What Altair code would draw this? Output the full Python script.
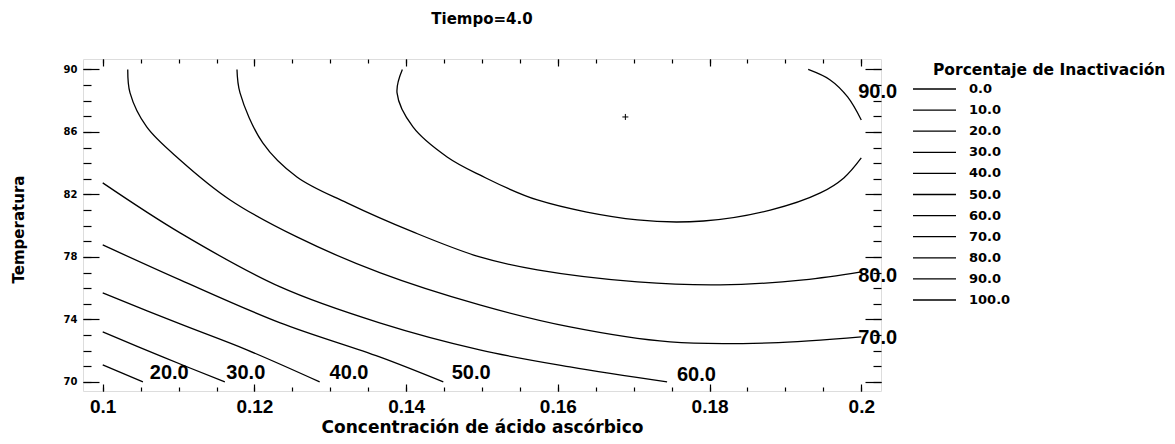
import altair as alt
import pandas as pd

# ---------------- texts ----------------
TITLE = "Tiempo=4.0"
X_TITLE = "Concentración de ácido ascórbico"
Y_TITLE = "Temperatura"
LEGEND_TITLE = "Porcentaje de Inactivación"
LEGEND_LEVELS = ["0.0", "10.0", "20.0", "30.0", "40.0", "50.0",
                 "60.0", "70.0", "80.0", "90.0", "100.0"]

# ---------------- ticks ----------------
X_MAJOR = [0.1, 0.12, 0.14, 0.16, 0.18, 0.2]
X_MINOR = [0.1, 0.105, 0.11, 0.115, 0.12, 0.125, 0.13, 0.135, 0.14, 0.145,
           0.15, 0.155, 0.16, 0.165, 0.17, 0.175, 0.18, 0.185, 0.19, 0.195, 0.2]
Y_MAJOR = [70, 74, 78, 82, 86, 90]
Y_MINOR = [70, 71, 72, 73, 74, 75, 76, 77, 78, 79, 80,
           81, 82, 83, 84, 85, 86, 87, 88, 89, 90]
X_DOMAIN = [0.0974, 0.2026]
Y_DOMAIN = [69.42, 90.67]

# ---------------- contour lines ----------------
c20_conc = [0.1, 0.1053]
c20_temp = [71.09, 70.0]

c30_conc = [0.1, 0.1079, 0.1161]
c30_temp = [73.2, 71.6, 70.0]

c40_conc = [0.1, 0.1102, 0.119, 0.1286]
c40_temp = [75.7, 73.71, 72.05, 70.0]

c50_conc = [0.1, 0.1102, 0.1234, 0.1365, 0.1449]
c50_temp = [78.77, 76.53, 73.78, 71.6, 70.0]

c60_conc = [0.1, 0.1102, 0.1234, 0.1365, 0.1497, 0.1616, 0.1744]
c60_temp = [82.74, 79.54, 76.08, 73.78, 72.05, 70.96, 70.0]

c70_conc = [0.1033, 0.1036, 0.1058, 0.1102, 0.1168, 0.1256, 0.1366,
            0.1497, 0.1616, 0.1748, 0.188, 0.2]
c70_temp = [90.0, 88.5, 86.32, 84.21, 81.65, 79.28, 76.98,
            74.93, 73.52, 72.56, 72.5, 72.88]

c80_conc = [0.1177, 0.1181, 0.1211, 0.1256, 0.1322, 0.1409, 0.1497,
            0.1573, 0.1705, 0.1814, 0.1924, 0.2]
c80_temp = [90.0, 88.5, 85.3, 83.12, 81.46, 79.6, 78.0,
            77.17, 76.4, 76.21, 76.53, 77.04]

c90a_conc = [0.1395, 0.1388, 0.1409, 0.1454, 0.1497, 0.1573, 0.1705,
             0.1792, 0.188, 0.1946, 0.1977, 0.2]
c90a_temp = [90.0, 88.5, 86.32, 84.4, 83.25, 81.65, 80.37,
             80.3, 81.0, 82.1, 83.06, 84.34]

c90b_conc = [0.2, 0.1982, 0.1959, 0.193]
c90b_temp = [86.77, 88.24, 89.33, 90.0]

# contour labels
LABEL_TEXT = ["20.0", "30.0", "40.0", "50.0", "60.0", "70.0", "80.0", "90.0"]
LABEL_CONC = [0.1062, 0.1163, 0.1299, 0.146, 0.1757, 0.1996, 0.1996, 0.1996]
LABEL_TEMP = [70.58, 70.58, 70.58, 70.58, 70.45, 72.82, 76.78, 88.56]

# optimum marker
OPT_CONC = [0.1689]
OPT_TEMP = [86.96]

# ---------------- tables ----------------
segments = [
    ("20.0", "s20", c20_conc, c20_temp),
    ("30.0", "s30", c30_conc, c30_temp),
    ("40.0", "s40", c40_conc, c40_temp),
    ("50.0", "s50", c50_conc, c50_temp),
    ("60.0", "s60", c60_conc, c60_temp),
    ("70.0", "s70", c70_conc, c70_temp),
    ("80.0", "s80", c80_conc, c80_temp),
    ("90.0", "s90a", c90a_conc, c90a_temp),
    ("90.0", "s90b", c90b_conc, c90b_temp),
]
rows = []
for lvl, seg, cs, ts in segments:
    for i, (c, t) in enumerate(zip(cs, ts)):
        rows.append({"nivel": lvl, "seg": seg, "idx": i, "conc": c, "temp": t})
contour_df = pd.DataFrame(rows)
label_df = pd.DataFrame({"texto": LABEL_TEXT, "conc": LABEL_CONC, "temp": LABEL_TEMP})
opt_df = pd.DataFrame({"conc": OPT_CONC, "temp": OPT_TEMP})

PLOT_W = 798
PLOT_H = 332

xs = alt.Scale(domain=X_DOMAIN, nice=False, zero=False)
ys = alt.Scale(domain=Y_DOMAIN, nice=False, zero=False)


def tick_axis(orient, values, size):
    off = -PLOT_H if orient in ("top", "bottom") else -PLOT_W
    return alt.Axis(orient=orient, offset=off, values=values, tickSize=size,
                    ticks=True, labels=False, domain=False, grid=False,
                    title=None, tickColor="black", tickWidth=1.2)


x_main_axis = alt.Axis(
    orient="bottom", values=X_MAJOR, format=".2~f", grid=False, domain=False,
    ticks=False, tickSize=0, labelFont="Liberation Sans", labelFontWeight="bold",
    labelFontSize=19, labelColor="black", labelPadding=6, labelFlush=False,
    labelOverlap=False, title=X_TITLE, titleFont="DejaVu Sans",
    titleFontWeight="bold", titleFontSize=17, titleColor="black",
    titleBaseline="alphabetic", titleY=41)

y_main_axis = alt.Axis(
    orient="left", values=Y_MAJOR, format="d", grid=False, domain=False,
    ticks=False, tickSize=0, labelFont="DejaVu Sans", labelFontWeight="bold",
    labelFontSize=10, labelColor="black", labelPadding=6, labelOverlap=False,
    title=Y_TITLE, titleFont="DejaVu Sans", titleFontWeight="bold",
    titleFontSize=15, titleColor="black", titleAngle=270, titleAlign="center",
    titleBaseline="middle", titleX=-64.5, titleY=170)

legend = alt.Legend(
    title=LEGEND_TITLE, orient="none", legendX=850, legendY=4,
    direction="vertical", padding=0,
    symbolType="M-5.375,0H5.375", symbolSize=64, symbolStrokeWidth=1.3,
    symbolOffset=-5, labelOffset=28, rowPadding=7.1,
    labelFont="DejaVu Sans", labelFontWeight="bold", labelFontSize=13,
    labelColor="black", labelLimit=200,
    titleFont="DejaVu Sans", titleFontWeight="bold", titleFontSize=15.5,
    titleColor="black", titleLimit=600, titlePadding=4)

lines = alt.Chart(contour_df).mark_line(
    strokeWidth=1.3, interpolate="catmull-rom").encode(
    x=alt.X("conc:Q", scale=xs, axis=x_main_axis),
    y=alt.Y("temp:Q", scale=ys, axis=y_main_axis),
    color=alt.Color("nivel:N", scale=alt.Scale(domain=LEGEND_LEVELS,
                                               range=["#000000"] * len(LEGEND_LEVELS)),
                    legend=legend),
    detail=alt.Detail("seg:N"),
    order=alt.Order("idx:Q"),
)

labels = alt.Chart(label_df).mark_text(
    align="left", baseline="middle", font="Liberation Sans",
    fontWeight="bold", fontSize=20, color="black").encode(
    x=alt.X("conc:Q", scale=xs, axis=tick_axis("top", X_MAJOR, 7)),
    y=alt.Y("temp:Q", scale=ys, axis=tick_axis("right", Y_MAJOR, 16)),
    text="texto:N",
)

opt = alt.Chart(opt_df).mark_point(
    shape="M-1,0H1M0,-1V1", size=36, filled=False, color="black",
    strokeWidth=1, opacity=1).encode(
    x=alt.X("conc:Q", scale=xs, axis=tick_axis("top", X_MINOR, 4)),
    y=alt.Y("temp:Q", scale=ys, axis=tick_axis("right", Y_MINOR, 8)),
)

carrier1 = alt.Chart(opt_df).mark_point(opacity=0).encode(
    x=alt.X("conc:Q", scale=xs, axis=tick_axis("bottom", X_MAJOR, 7)),
    y=alt.Y("temp:Q", scale=ys, axis=tick_axis("left", Y_MAJOR, 16)),
)

carrier2 = alt.Chart(opt_df).mark_point(opacity=0).encode(
    x=alt.X("conc:Q", scale=xs, axis=tick_axis("bottom", X_MINOR, 4)),
    y=alt.Y("temp:Q", scale=ys, axis=tick_axis("left", Y_MINOR, 8)),
)

chart = alt.layer(lines, labels, opt, carrier1, carrier2).resolve_axis(
    x="independent", y="independent"
).properties(
    width=PLOT_W, height=PLOT_H,
    title=alt.TitleParams(TITLE, font="DejaVu Sans", fontSize=15,
                          fontWeight="bold", color="black", anchor="middle",
                          offset=31),
    autosize=alt.AutoSizeParams(type="none"),
    padding={"left": 75, "top": 51, "right": 286, "bottom": 45},
).configure_view(stroke="black", strokeWidth=1.5).configure(background="white")

chart.save("out.html", embed_options={"renderer": "svg", "actions": False})
